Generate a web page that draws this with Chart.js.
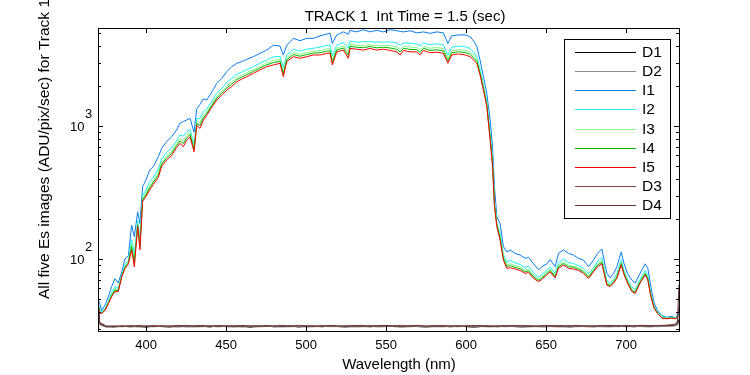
<!DOCTYPE html>
<html>
<head>
<meta charset="utf-8">
<script src="https://cdn.jsdelivr.net/npm/chart.js@4.4.1/dist/chart.umd.min.js"></script>
<style>
  html, body { margin: 0; padding: 0; background: #fff; }
  canvas { display: block; }
</style>
</head>
<body>
<canvas id="Track_Chart" width="750" height="375"></canvas>
<script>
// wavelength grid of the lit images (nm)
const wavelength = [
  370, 371, 372.3, 374.4, 376.5, 378.5, 380.6, 382.7, 384.8, 386.9,
  389, 391, 392.7, 394.8, 396.2, 397.9, 400, 402.3, 404.6, 407.7,
  409.8, 412.9, 416, 419.2, 421.2, 423.3, 425.4, 427.5, 430, 431.7,
  433.7, 435.8, 437.9, 440.5, 444.2, 447.3, 450.4, 453.5, 456.7, 459.8,
  462.9, 467.1, 471.2, 475.4, 479.6, 483.7, 485.8, 487.9, 492.1, 496.2,
  500.4, 504.6, 508.7, 512.9, 515, 516.4, 519.2, 523.3, 526.4, 527.5,
  531.7, 535.8, 540, 544.2, 548.3, 552.5, 556.7, 558.8, 560.8, 565,
  569.2, 571.2, 573.3, 577.5, 581.7, 585.8, 588.6, 591, 595.2, 599.4,
  602.5, 605, 606.7, 608.7, 610.8, 612.9, 615, 616.5, 617.7, 619.2,
  621.2, 623.3, 625.4, 627.5, 630.6, 633.7, 636.9, 639, 642.1, 645.2,
  647.3, 650.4, 652.5, 655.6, 657.7, 660.8, 664, 667.1, 670.2, 673.3,
  676.5, 679.6, 682.1, 684.8, 686.2, 687.9, 690, 692.1, 694.2, 696.9,
  698.7, 700.8, 703.5, 705.6, 708.7, 711.9, 713.5, 715.4, 717.5, 719.6,
  722.3, 725.4, 728.5, 730.6, 732.7
];

const I1 = [
  50, 47, 41, 45, 52, 62, 71, 66, 80, 100,
  106, 180, 147, 226, 185, 350, 393, 467, 495, 588,
  680, 765, 830, 935, 1050, 1080, 1110, 1140, 900, 1350,
  1450, 1600, 1568, 1750, 2090, 2280, 2560, 2790, 2960, 3050,
  3170, 3320, 3516, 3720, 4050, 3990, 3420, 4050, 4560, 4380,
  4560, 4560, 4760, 4910, 4970, 4180, 4840, 5100, 4900, 5240,
  5100, 5300, 5100, 5240, 5100, 5300, 5200, 5150, 5100, 5200,
  5020, 5050, 5100, 4970, 5100, 5020, 4180, 4760, 4840, 4840,
  4700, 4300, 3946, 3133, 2350, 1760, 1110, 700, 350, 208,
  185, 124, 113, 117, 110, 107, 101, 103, 92, 83,
  87.5, 92, 99, 87.5, 110, 117, 110, 107, 101, 98,
  87.5, 98, 110, 119, 98, 78, 72, 78, 87.5, 113,
  92, 78, 69.5, 66, 78, 92, 85, 62, 46.4, 41,
  37.5, 36.5, 37, 36, 39
];

const I2 = [
  47.5, 42, 40, 42.5, 48, 56, 62, 60.5, 75.5, 90.5,
  97, 140, 109, 194, 142, 301, 331, 381, 413, 476,
  567, 633, 685, 781, 855, 840, 902, 945, 736, 1136,
  1141, 1285, 1336, 1498, 1761, 1921, 2119, 2280, 2450, 2546,
  2653, 2796, 2964, 3134, 3313, 3341, 2746, 3420, 3779, 3656,
  3779, 3842, 3916, 4032, 4054, 3361, 4065, 4231, 3848, 4352,
  4268, 4305, 4300, 4282, 4268, 4292, 4198, 4060, 4218, 4198,
  4132, 4023, 4218, 4082, 4149, 4072, 3411, 3916, 3983, 3945,
  3831, 3544, 3325, 2684, 2041, 1533, 905, 571, 285, 187,
  156, 108, 95, 97.5, 93.5, 91, 86.5, 88, 79, 73,
  76.5, 82, 87, 78, 94, 100, 94, 92.5, 89, 85.5,
  77.5, 86.5, 96, 102, 85.5, 69, 65.5, 70.5, 77.5, 98.5,
  82, 70.5, 61.5, 59, 70.5, 82, 75, 55.5, 44, 40,
  37, 36, 36.5, 36, 38
];

const I3 = [
  47, 40.5, 39.5, 42, 47, 54, 60, 59, 74.5, 88,
  95, 130, 99, 185, 131, 288, 315, 357, 391, 446,
  536, 597, 646, 739, 802, 776, 846, 892, 692, 1078,
  1058, 1200, 1274, 1430, 1672, 1824, 2000, 2142, 2312, 2410,
  2514, 2654, 2815, 2976, 3114, 3166, 2564, 3250, 3568, 3460,
  3568, 3648, 3688, 3795, 3807, 3140, 3856, 3996, 3564, 4112,
  4044, 4036, 4084, 4024, 4044, 4020, 3928, 3766, 3980, 3928,
  3892, 3746, 3980, 3842, 3892, 3817, 3204, 3688, 3752, 3704,
  3596, 3340, 3157, 2563, 1958, 1472, 850, 536, 268, 182,
  148, 103, 91, 92, 89, 87, 82.5, 84, 75.5, 70.5,
  73.5, 79, 84, 75, 90, 95.5, 90, 88.5, 86, 82,
  74.5, 83.5, 92, 97.5, 82, 66.5, 64, 68.5, 74.5, 94.5,
  79, 68.5, 59.5, 57, 68.5, 79, 72.5, 54, 43.5, 39.5,
  36.5, 35.8, 36.2, 35.8, 37.5
];

const I4 = [
  46.5, 40, 39, 41.5, 46.5, 53, 58.5, 58, 74, 86.5,
  93.5, 124, 93, 180, 124, 280, 305, 344, 378, 428,
  518, 576, 623, 715, 771, 738, 813, 861, 666, 1044,
  1009, 1150, 1237, 1390, 1620, 1767, 1930, 2061, 2231, 2330,
  2432, 2571, 2728, 2883, 2997, 3063, 2457, 3150, 3444, 3345,
  3444, 3534, 3554, 3655, 3661, 3010, 3733, 3858, 3397, 3971,
  3912, 3878, 3957, 3872, 3912, 3860, 3769, 3593, 3840, 3769,
  3751, 3583, 3840, 3701, 3741, 3666, 3082, 3554, 3616, 3562,
  3458, 3220, 3059, 2491, 1909, 1436, 818, 516, 257, 178,
  144, 101, 88, 89, 86.5, 84.5, 80, 81.5, 73.5, 69,
  72, 77.5, 82, 73.5, 87.5, 92.5, 87.5, 86.5, 84, 80,
  73, 82, 90, 94.5, 80, 65, 63, 67, 73, 92.5,
  77.5, 67, 58, 56, 67, 77.5, 71, 53, 43, 39,
  36, 35.6, 36, 35.6, 37
];

const I5 = [
  46, 39, 39, 41, 46, 52, 57, 57, 73, 85,
  92, 117, 87, 175, 117, 272, 295, 330, 365, 410,
  500, 555, 600, 690, 740, 700, 780, 830, 640, 1010,
  960, 1100, 1200, 1350, 1568, 1710, 1860, 1980, 2150, 2250,
  2350, 2488, 2640, 2790, 2880, 2960, 2350, 3050, 3320, 3230,
  3320, 3420, 3420, 3516, 3516, 2880, 3610, 3720, 3230, 3830,
  3780, 3720, 3830, 3720, 3780, 3700, 3610, 3420, 3700, 3610,
  3610, 3420, 3700, 3560, 3590, 3516, 2960, 3420, 3480, 3420,
  3320, 3100, 2960, 2420, 1860, 1400, 785, 495, 247, 175,
  139, 98, 85, 86, 84, 82, 78, 79, 71.5, 67.5,
  70, 76, 80, 72, 85, 90, 85, 84, 82, 78,
  71.5, 80, 87.5, 92, 78, 63.6, 62, 66, 71.5, 90,
  76, 66, 57, 55, 66, 76, 69.5, 52, 42.5, 39,
  36, 35.5, 36, 35.5, 37
];

// wavelength grid of the dark images (nm)
const darkWavelength = [
  370, 371, 375, 380, 385, 390, 395, 400, 405, 410,
  415, 420, 425, 430, 435, 440, 445, 450, 455, 460,
  465, 470, 475, 480, 485, 490, 495, 500, 505, 510,
  515, 520, 525, 530, 535, 540, 545, 550, 555, 560,
  565, 570, 575, 580, 585, 590, 595, 600, 605, 610,
  615, 620, 625, 630, 635, 640, 645, 650, 655, 660,
  665, 670, 675, 680, 685, 690, 695, 700, 705, 710,
  715, 720, 725, 730, 732, 733
];

const D1 = [
  46, 32.5, 31.0, 30.8, 31.2, 30.9, 31.1, 30.7, 31.3, 31.0,
  30.8, 31.4, 30.9, 31.1, 31.2, 30.8, 31.5, 31.0, 30.9, 31.2,
  30.7, 31.1, 31.3, 30.9, 31.0, 31.4, 30.8, 31.1, 31.2, 30.9,
  31.5, 31.0, 30.8, 31.2, 31.1, 30.9, 31.3, 31.6, 31.0, 30.9,
  31.2, 31.0, 30.8, 31.1, 31.3, 30.9, 31.2, 31.0, 30.7, 31.1,
  31.2, 30.9, 31.4, 31.0, 30.8, 31.1, 31.0, 30.9, 31.3, 31.1,
  30.8, 31.2, 31.0, 30.9, 31.4, 31.1, 31.0, 31.2, 30.9, 31.3,
  31.1, 31.0, 31.4, 31.6, 32.0, 35
];
const D2 = [
  45, 32.0, 30.7, 31.1, 30.9, 31.3, 30.8, 31.0, 30.9, 31.2,
  31.0, 30.7, 31.1, 30.8, 30.9, 31.3, 30.8, 31.2, 31.0, 30.7,
  31.1, 30.9, 31.0, 31.2, 30.8, 30.9, 31.1, 30.8, 30.9, 31.2,
  30.9, 31.1, 31.0, 30.8, 30.9, 31.2, 30.8, 31.0, 31.2, 30.8,
  30.9, 31.1, 31.0, 30.9, 30.8, 31.2, 30.9, 31.3, 30.9, 31.0,
  30.8, 31.1, 30.9, 31.2, 31.0, 30.8, 31.2, 31.1, 30.9, 30.8,
  31.1, 30.9, 31.2, 31.0, 30.9, 30.8, 31.2, 30.9, 31.1, 31.0,
  30.8, 31.2, 31.0, 31.3, 31.8, 33
];
const D3 = [
  48, 33.0, 31.2, 31.4, 31.0, 31.5, 31.2, 31.3, 31.6, 31.1,
  31.4, 31.2, 31.7, 31.3, 31.1, 31.5, 31.2, 31.4, 31.6, 31.2,
  31.3, 31.5, 31.1, 31.4, 31.7, 31.2, 31.3, 31.5, 31.2, 31.6,
  31.3, 31.2, 31.5, 31.4, 31.1, 31.6, 31.3, 31.2, 31.5, 31.7,
  31.2, 31.4, 31.3, 31.6, 31.2, 31.4, 31.5, 31.1, 31.3, 31.6,
  31.4, 31.2, 31.5, 31.3, 31.6, 31.2, 31.4, 31.5, 31.2, 31.3,
  31.6, 31.4, 31.2, 31.5, 31.3, 31.4, 31.6, 31.2, 31.5, 31.3,
  31.4, 31.6, 31.5, 31.8, 33.0, 45
];
const D4 = [
  50, 33.5, 31.3, 31.1, 31.5, 31.2, 31.6, 31.3, 31.1, 31.5,
  31.2, 31.6, 31.3, 31.4, 31.7, 31.2, 31.5, 31.3, 31.2, 31.6,
  31.4, 31.2, 31.6, 31.3, 31.5, 31.2, 31.7, 31.3, 31.4, 31.2,
  31.6, 31.4, 31.3, 31.5, 31.7, 31.2, 31.4, 31.6, 31.3, 31.2,
  31.5, 31.7, 31.2, 31.4, 31.6, 31.3, 31.2, 31.5, 31.6, 31.3,
  31.2, 31.5, 31.3, 31.6, 31.4, 31.5, 31.2, 31.6, 31.4, 31.5,
  31.3, 31.6, 31.4, 31.3, 31.5, 31.6, 31.3, 31.6, 31.4, 31.7,
  31.5, 31.6, 31.8, 32.2, 34.0, 64
];

// axis ticks
const xTicks = [400, 450, 500, 550, 600, 650, 700];
const yMajorTicks = [100, 1000];
const yMajorLabels = [['10', '2'], ['10', '3']];
const yMinorTicks = [30, 40, 50, 60, 70, 80, 90, 200, 300, 400, 500, 600, 700, 800, 900, 2000, 3000, 4000, 5000];

const seriesNames = ['D1', 'D2', 'I1', 'I2', 'I3', 'I4', 'I5', 'D3', 'D4'];
const seriesColors = ['#000000', '#8c8c8c', '#0a7cf0', '#1ef0f0', '#80ff80', '#00b400', '#ff0000', '#804848', '#6a3434'];
const seriesData = [[darkWavelength, D1], [darkWavelength, D2], [wavelength, I1], [wavelength, I2],
  [wavelength, I3], [wavelength, I4], [wavelength, I5], [darkWavelength, D3], [darkWavelength, D4]];

const FONT = '"Liberation Sans", Arial, Helvetica, sans-serif';
const Track_chart = document.getElementById('Track_Chart');

function toPoints(xs, ys) {
    return xs.map((x, i) => ({ x: x, y: ys[i] }));
}

// box, inward ticks, tick labels, axis titles and the legend, matlab style
const matlabFrame = {
    id: 'matlabFrame',
    afterDatasetsDraw(chart) {
        const { ctx, chartArea: a } = chart;
        const x = chart.scales.x, y = chart.scales.y;
        ctx.save();
        ctx.strokeStyle = '#000';
        ctx.fillStyle = '#000';
        ctx.lineWidth = 1;
        ctx.strokeRect(a.left + 0.5, a.top + 0.5, a.right - a.left, a.bottom - a.top);

        ctx.beginPath();
        xTicks.forEach(v => {
            const px = Math.round(x.getPixelForValue(v)) + 0.5;
            ctx.moveTo(px, a.bottom); ctx.lineTo(px, a.bottom - 5);
            ctx.moveTo(px, a.top); ctx.lineTo(px, a.top + 5);
        });
        yMajorTicks.forEach(v => {
            const py = Math.round(y.getPixelForValue(v)) + 0.5;
            ctx.moveTo(a.left, py); ctx.lineTo(a.left + 5, py);
            ctx.moveTo(a.right, py); ctx.lineTo(a.right - 5, py);
        });
        yMinorTicks.forEach(v => {
            const py = Math.round(y.getPixelForValue(v)) + 0.5;
            ctx.moveTo(a.left, py); ctx.lineTo(a.left + 3, py);
            ctx.moveTo(a.right, py); ctx.lineTo(a.right - 3, py);
        });
        ctx.stroke();

        ctx.font = '13px ' + FONT;
        ctx.textAlign = 'center';
        ctx.textBaseline = 'alphabetic';
        xTicks.forEach(v => ctx.fillText(String(v), x.getPixelForValue(v), 349));

        ctx.textAlign = 'left';
        yMajorTicks.forEach((v, i) => {
            const py = y.getPixelForValue(v);
            ctx.fillText(yMajorLabels[i][0], 70, py + 5);
            ctx.fillText(yMajorLabels[i][1], 85, py - 7.5);
        });

        ctx.font = '15px ' + FONT;
        ctx.textAlign = 'center';
        ctx.fillText('TRACK 1  Int Time = 1.5 (sec)', 405, 21);
        ctx.fillText('Wavelength (nm)', 399, 369);

        ctx.save();
        ctx.translate(49, 299);
        ctx.rotate(-Math.PI / 2);
        ctx.font = '15.5px ' + FONT;
        ctx.textAlign = 'left';
        ctx.fillText('All five Es images (ADU/pix/sec) for Track 1', 0, 0);
        ctx.restore();

        // legend
        ctx.fillStyle = '#fff';
        ctx.fillRect(565, 40, 105, 178);
        ctx.strokeStyle = '#000';
        ctx.strokeRect(564.5, 39.5, 106, 179);
        ctx.font = '15.5px ' + FONT;
        ctx.textBaseline = 'middle';
        ctx.textAlign = 'left';
        chart.data.datasets.forEach((ds, i) => {
            const ly = Math.round(51.7 + i * 19.2);
            ctx.fillStyle = ds.borderColor;
            ctx.fillRect(575, ly, 61, 1);
            ctx.fillStyle = '#000';
            ctx.fillText(ds.label, 642, ly + 1);
        });
        ctx.restore();
    }
};

function Track_Chart() {
    new Chart(Track_chart, {
        type: 'line',
        data: {
            datasets: seriesNames.map((name, i) => ({
                label: name,
                data: toPoints(seriesData[i][0], seriesData[i][1]),
                borderColor: seriesColors[i],
                backgroundColor: seriesColors[i],
                borderWidth: 1,
                pointRadius: 0,
                tension: 0,
                fill: false,
                order: seriesNames.length - 1 - i
            }))
        },
        options: {
            responsive: false,
            animation: false,
            devicePixelRatio: 1,
            layout: { padding: { left: 98, top: 28, right: 71, bottom: 44 } },
            plugins: {
                legend: { display: false },
                tooltip: { enabled: false },
                title: { display: false }
            },
            scales: {
                x: { type: 'linear', min: 370, max: 733, display: false },
                y: { type: 'logarithmic', min: 28.74, max: 5456, display: false }
            }
        },
        plugins: [matlabFrame]
    });
}
Track_Chart()
</script>
</body>
</html>
